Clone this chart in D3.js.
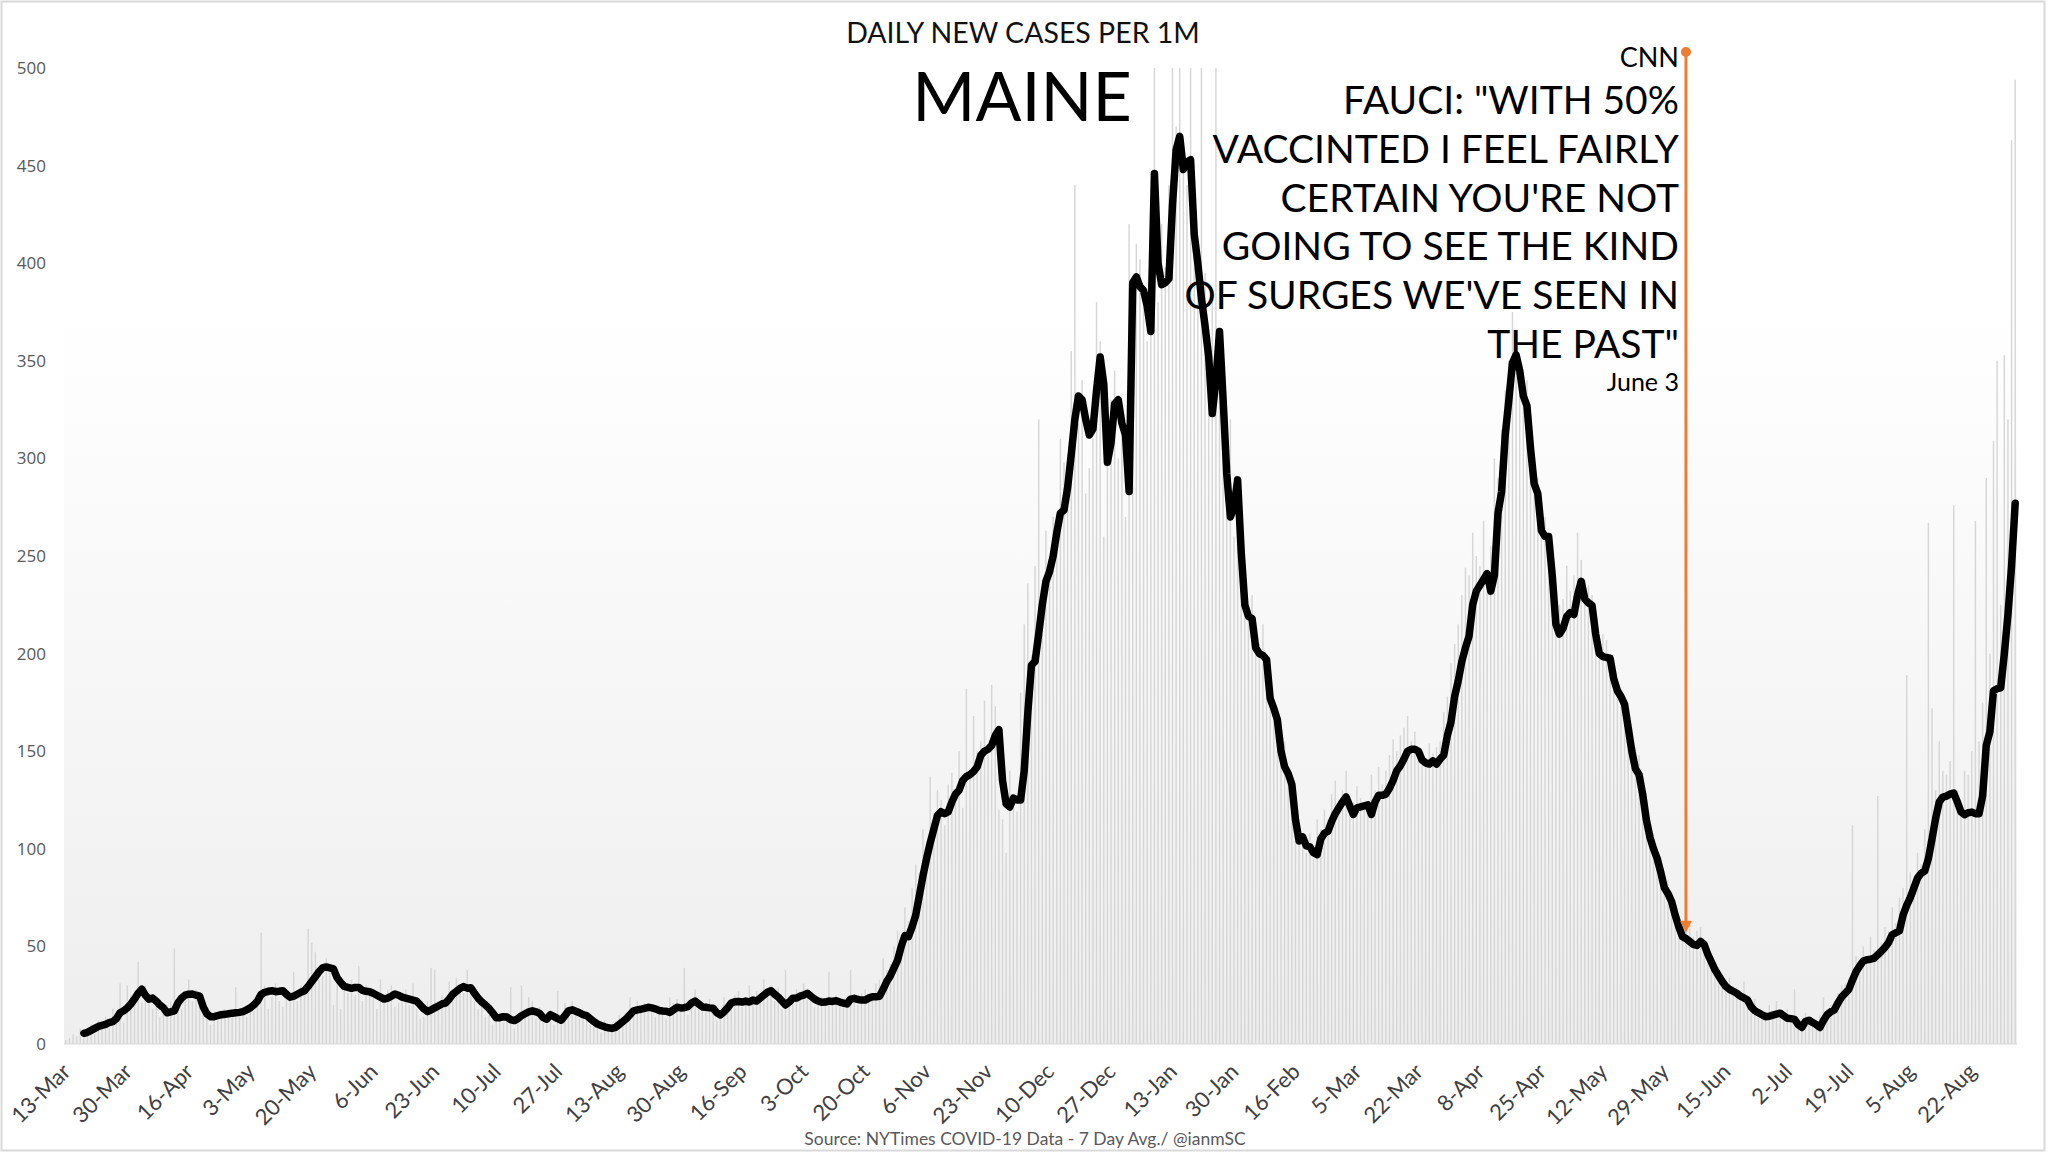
<!DOCTYPE html>
<html><head><meta charset="utf-8">
<script src="https://cdn.jsdelivr.net/npm/d3@7"></script>
<style>html,body{margin:0;padding:0;background:#fff;} svg{display:block;}</style>
</head><body>
<svg id="chart" width="2048" height="1155"></svg>
<script>
// ---------- DATA ----------
const startDate = new Date(2020, 2, 13);
const dayCount = 540;
const categories = d3.timeDay.range(startDate, d3.timeDay.offset(startDate, dayCount));
const tickStep = 17;
const tickLabels = ["13-Mar","30-Mar","16-Apr","3-May","20-May","6-Jun","23-Jun","10-Jul","27-Jul","13-Aug","30-Aug","16-Sep","3-Oct","20-Oct","6-Nov","23-Nov","10-Dec","27-Dec","13-Jan","30-Jan","16-Feb","5-Mar","22-Mar","8-Apr","25-Apr","12-May","29-May","15-Jun","2-Jul","19-Jul","5-Aug","22-Aug"];
const yTicks = [0,50,100,150,200,250,300,350,400,450,500];

// daily new cases per 1M (grey bars)
const dailyCases = [
2,3,5,4,8,6,7,10,5,12,
9,14,8,18,17,31,11,30,25,20,
42,21,30,26,18,24,14,17,19,22,
49,24,18,27,33,22,28,25,20,13,
10,16,12,14,18,13,17,29,15,18,
14,20,17,25,57,30,18,24,31,22,
19,28,23,37,22,30,26,59,52,47,
33,35,44,41,20,30,18,31,26,33,
25,40,22,30,26,24,18,33,21,28,
30,19,21,26,28,20,31,18,13,14,
22,39,38,21,25,24,32,28,34,29,
26,38,30,22,18,21,14,15,10,12,
16,11,15,29,8,14,30,17,24,22,
13,19,11,16,15,10,27,12,21,14,
22,15,13,18,12,10,9,11,6,12,
7,10,8,15,12,16,24,19,22,17,
21,18,16,14,20,19,13,24,21,23,
17,39,15,22,28,20,17,21,23,19,
12,16,24,22,20,25,27,19,23,30,
21,27,24,33,26,30,22,29,18,38,
25,21,28,23,31,24,26,19,21,24,
20,37,22,25,19,23,21,38,24,20,
26,28,23,25,31,33,44,38,41,50,
58,44,70,63,80,92,88,110,96,137,
118,130,125,112,133,139,131,150,121,182,
141,168,150,155,176,148,184,173,120,115,
98,140,126,119,180,215,236,199,245,320,
210,263,248,270,255,310,298,290,355,440,
318,340,282,295,310,380,360,260,305,330,
345,300,325,270,420,390,410,402,385,360,
395,500,380,420,398,440,500,470,500,455,
440,500,430,410,500,395,340,380,500,350,
300,280,320,260,290,248,235,225,230,210,
205,215,190,180,175,160,150,155,140,128,
118,112,105,98,108,95,115,110,120,115,
128,135,125,130,140,118,124,132,126,120,
119,138,130,142,133,140,148,156,150,158,
162,168,155,160,148,150,146,154,149,152,
155,170,178,195,205,215,230,244,240,262,
250,245,268,236,255,300,290,315,335,350,
375,360,350,330,340,310,295,290,275,270,
262,230,220,225,228,245,232,240,262,248,
238,235,230,215,205,210,207,195,190,185,
182,178,170,162,152,148,135,120,112,108,
100,96,88,84,78,70,64,60,58,62,
55,58,60,52,48,45,40,36,32,30,
34,27,29,25,32,24,20,23,18,16,
14,20,17,22,15,13,18,12,28,10,
9,16,14,12,10,15,24,18,20,22,
26,30,31,33,112,45,38,50,42,55,
48,127,52,60,58,70,62,75,80,189,
88,82,98,92,110,267,172,130,155,140,
138,145,276,130,125,140,138,150,268,155,
175,290,200,309,350,225,353,320,463,494
];

// 7-day average per 1M (black line)
const sevenDayAvg = [
null,null,null,null,null,5.5,6,7,8,9,
9.5,10,11,11.5,13,16,17,18.5,20.5,23,
26,28,25,23,23.5,22,20,18.5,16,16.5,
17,21,23.5,25,25.5,25.6,25,24.5,19,15.5,
14,14,14.5,15,15.2,15.5,15.8,16,16.2,16.6,
17.5,18.5,20,22,25.4,26.5,27,27.3,26.8,27,
27.3,25.5,24,24.5,25.5,26.5,27.3,29.5,32,34.5,
37,39,39.5,39,38.5,34,31.5,29.5,29,28.5,
29,29,27.5,27,26.8,26,25,24,23,23.5,
24.5,25.6,25,24,23.5,23,22.5,22,20,18,
16.6,17.5,18.5,19.5,20.5,21,23,25.5,27,28.5,
29.4,28.6,28.8,26,23.5,21.5,20,18.3,16,13.5,
13.5,14,13.8,12.5,12,13,14.5,15.5,16.5,17,
16.5,15.7,13.5,12.7,15,14,13,12.2,14.5,17,
17.5,16.8,16,15,14.5,13,11.5,10.2,9.5,8.8,
8.3,8,8.5,10,11.5,13,15,17,17.5,17.8,
18.3,18.8,18.5,18,17.2,16.9,16.8,16.2,17.5,18.8,
18.5,18.6,19.1,21,22,20.5,19,18.8,18.5,18.3,
16,14.9,16.5,18.5,21,21.7,21.8,21.5,22,21.5,
22.5,22,23.5,25,26.5,27.3,25.5,24,22,20,
21.5,23.4,23.5,24.5,25,26,24.5,23,22,21.4,
21.5,22,21.8,22.2,21.5,21,20.5,23,23.4,22.8,
22.5,22.5,23.5,24.2,24.2,24.5,28,32,35,39,
43,50,55.5,55,60,66,76,86,95,103,
110,117,119,118,119,124,128,130,135,137,
138,139.6,142,147.9,150,151,153,158,161,135,
123,121.4,126,125,125,140,170,194,196,210,
225,237,242,250,262,272,273.5,285,302,320,
332,330,320,312,315,335,352,338,298,308,
328,330,318,312,283,390,393,388,386,378,
365,446,400,389,390,392,430,458,465,448,
452,453,415,400,382,368,352,323,340,365,
330,292,270,275,289,252,225,219,218,203,
200,199,197,177,172,166,150,142,138.5,133,
115,104,106,101.5,101,98,97,105,108,109,
114,118,121,124,126.5,122,117.6,121,121.5,122,
122.5,117.6,124,127.4,127.4,128,131,135,140,142.5,
146,150,151,151,150,145.5,144,143.4,145,143.4,
146,148,158,165,178,186,196,203,209,225,
232,235,238,241,232,240,272,283,312,330,
349,353,345,332,327,305,287,282,263,260,
260,240,215,210,213,219,221,220,230,237,
228,226,224.7,210,200,198.5,198,197.6,187,181,
178,174,162,150,141,138,128,115,106,100,
95,88,80,77,73,66,60,55,54,52.5,
51,50.5,52.5,51,46,42,38,35,32,29.5,
28,27,26,24.5,23.6,22.5,19,17,16,15,
14,14.2,14.8,15.3,15.8,14.5,13.2,13,12.6,10,
8.5,11.5,12.2,11,10,8.5,12,15,16.5,17.5,
21,24,26,28,32.7,37,40,42.5,43.2,43.4,
44,45.7,47.5,49.5,52,56,57,58,66,71,
75,80,85,87.5,88.6,95,105,115.6,124,126.5,
127,128,128.6,124,119,117.5,118.5,118.8,118,118,
127,153,160,181,182,182.5,200,220,245,277
];

const titleText = "DAILY NEW CASES PER 1M";
const stateText = "MAINE";
const noteSource = "CNN";
const noteLines = ["FAUCI: \"WITH 50%", "VACCINTED I FEEL FAIRLY", "CERTAIN YOU'RE NOT", "GOING TO SEE THE KIND", "OF SURGES WE'VE SEEN IN", "THE PAST\""];
const noteDate = "June 3";
const noteDay = new Date(2021, 5, 3);
const sourceText = "Source: NYTimes COVID-19 Data  - 7 Day Avg./ @ianmSC";

// ---------- LAYOUT ----------
const W = 2048, H = 1155;
const plot = {left: 64, right: 2017, top: 68, bottom: 1044};
const FONT = "Lato, 'Open Sans', sans-serif";

const svg = d3.select("#chart");
const defs = svg.append("defs");
const grad = defs.append("linearGradient").attr("id","bg").attr("x1",0).attr("y1",0).attr("x2",0).attr("y2",1);
grad.append("stop").attr("offset","0%").attr("stop-color","#ffffff");
grad.append("stop").attr("offset","25%").attr("stop-color","#ffffff");
grad.append("stop").attr("offset","100%").attr("stop-color","#eeeeee");

svg.append("rect").attr("x",1.5).attr("y",1.5).attr("width",W-5).attr("height",H-6)
  .attr("fill","#fff").attr("stroke","#d9d9d9").attr("stroke-width",2);

const x = d3.scaleBand().domain(d3.range(dayCount)).range([plot.left, plot.right])
  .paddingInner(0.6).paddingOuter(0.3);
const xc = i => x(i) + x.bandwidth()/2;
const y = d3.scaleLinear().domain([0,500]).range([plot.bottom, plot.top]);

svg.append("rect").attr("x",plot.left).attr("y",plot.top)
  .attr("width",plot.right-plot.left).attr("height",plot.bottom-plot.top).attr("fill","url(#bg)");

// bars
svg.append("g").selectAll("rect").data(dailyCases).join("rect")
  .attr("x",(d,i)=>x(i)).attr("width",x.bandwidth())
  .attr("y",d=>y(Math.min(d,500))).attr("height",d=>y(0)-y(Math.min(d,500)))
  .attr("fill","#d6d6d6");

svg.append("line").attr("x1",plot.left).attr("x2",plot.right).attr("y1",y(0)).attr("y2",y(0))
  .attr("stroke","#d9d9d9").attr("stroke-width",1);

// y axis labels
svg.append("g").selectAll("text").data(yTicks).join("text")
  .attr("x",46).attr("y",d=>y(d)).attr("dy","0.35em").attr("text-anchor","end")
  .attr("font-family","'Open Sans', sans-serif").attr("font-size",17).attr("fill","#595959")
  .text(d=>d);

// x axis labels
svg.append("g").selectAll("text").data(tickLabels).join("text")
  .attr("transform",(d,k)=>`translate(${xc(k*tickStep)+6},${plot.bottom+29}) rotate(-45)`)
  .attr("text-anchor","end").attr("font-family",FONT).attr("font-size",22).attr("fill","#404040")
  .text(d=>d);

// line
const line = d3.line().defined(d=>d!=null).x((d,i)=>xc(i)).y(d=>y(d)).curve(d3.curveLinear);
svg.append("path").datum(sevenDayAvg).attr("d",line).attr("fill","none")
  .attr("stroke","#000").attr("stroke-width",7.5).attr("stroke-linejoin","round").attr("stroke-linecap","round");

// titles
svg.append("text").attr("x",1023).attr("y",43).attr("text-anchor","middle")
  .attr("font-family",FONT).attr("font-size",28.5).attr("fill","#111").text(titleText);
svg.append("text").attr("x",1022).attr("y",121).attr("text-anchor","middle")
  .attr("font-family",FONT).attr("font-size",68).attr("fill","#000").text(stateText);

// annotation
const ni = d3.timeDay.count(startDate, noteDay);
const ax = xc(ni) + 3.5;
const tipY = y(sevenDayAvg[ni]) - 4;
const orange = "#ED7D31";
svg.append("line").attr("x1",ax).attr("x2",ax).attr("y1",52).attr("y2",tipY-10)
  .attr("stroke",orange).attr("stroke-width",3);
svg.append("circle").attr("cx",ax).attr("cy",52).attr("r",5).attr("fill",orange);
svg.append("path").attr("d",`M${ax-6},${tipY-12} L${ax+6},${tipY-12} L${ax},${tipY} Z`).attr("fill",orange);

const tx = ax - 7;
svg.append("text").attr("x",tx).attr("y",67).attr("text-anchor","end")
  .attr("font-family",FONT).attr("font-size",27).attr("fill","#000").text(noteSource);
svg.append("g").selectAll("text").data(noteLines).join("text")
  .attr("x",tx).attr("y",(d,k)=>114 + k*48.8).attr("text-anchor","end")
  .attr("font-family",FONT).attr("font-size",39).attr("fill","#000").text(d=>d);
svg.append("text").attr("x",tx).attr("y",391).attr("text-anchor","end")
  .attr("font-family",FONT).attr("font-size",25).attr("fill","#000").text(noteDate);

// source
svg.append("text").attr("x",1025).attr("y",1145).attr("text-anchor","middle")
  .attr("font-family",FONT).attr("font-size",17.5).attr("fill","#595959").text(sourceText);
</script>
</body></html>
